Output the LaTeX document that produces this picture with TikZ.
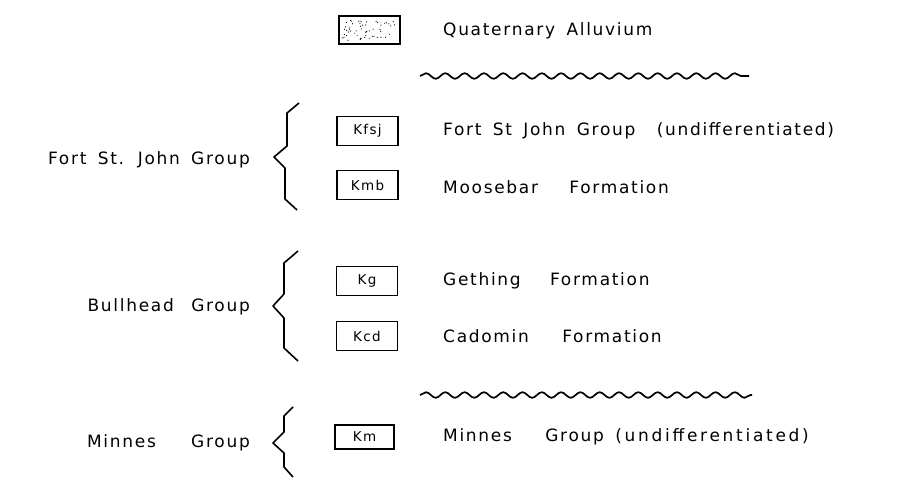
\documentclass[tikz,border=0pt]{standalone}
\usepackage{fontspec}
\setmainfont{DejaVu Sans}[WordSpace={1.6}, LetterSpace=10]
\usetikzlibrary{decorations.pathmorphing,calc}

\tikzset{
  unitbox/.style={draw, line width=1.3pt, minimum width=61pt, minimum height=29pt,
    inner sep=0pt, font=\fontsize{13.5}{16}\selectfont},
  unitname/.style={anchor=west, inner sep=0pt, font=\fontsize{17}{20}\selectfont},
  groupname/.style={anchor=east, inner sep=0pt, font=\fontsize{17}{20}\selectfont},
  bracket/.style={line width=1.6pt, line join=round},
  uncon/.style={line width=1.7pt, decorate,
    decoration={snake, segment length=19.3pt, amplitude=2.8pt}},
}

\begin{document}
\begin{tikzpicture}[x=1pt, y=-1pt]
\useasboundingbox (0,0) rectangle (908,484);

% stippled alluvium symbol
\node[unitbox, line width=1.1pt, minimum width=61pt, minimum height=28pt] (qal) at (369.5,30) {};
\pgfmathsetseed{7}
\foreach \i in {1,...,55} {
  \fill ($(qal.south west)+(4+53*rnd, -4-20*rnd)$) circle (0.6pt);
}
\node[unitname] (tqal) at (443,31) {Quaternary Alluvium};

% unconformities
\coordinate (u1a) at (420,76);
\coordinate (u1b) at (749,76);
\draw[uncon] (u1a) -- (u1b);
\coordinate (u2a) at (420,395);
\coordinate (u2b) at (752,395);
\draw[uncon] (u2a) -- (u2b);

% map units
\node[unitbox] (kfsj) at (367.5,131) {Kfsj};
\node[unitname] (tkfsj) at (443,131) {Fort St John Group\hspace{10pt} (undifferentiated)};
\node[unitbox] (kmb) at (367.5,185) {Kmb};
\node[unitname] (tkmb) at (443,187) {Moosebar\hspace{20pt} Formation};
\node[unitbox] (kg) at (367,281) {Kg};
\node[unitname] (tkg) at (443,281) {Gething\hspace{18pt} Formation};
\node[unitbox] (kcd) at (367,336) {Kcd};
\node[unitname] (tkcd) at (443,336) {Cadomin\hspace{22pt} Formation};
\node[unitbox, minimum width=59pt, minimum height=24pt] (km) at (364.5,437) {Km};
\node[unitname] (tkm) at (443,437) {Minnes\hspace{22pt} Group {\addfontfeatures{LetterSpace=16}(undifferentiated)}};

% group names and their brackets
\node[groupname] (gfsj) at (250,160) {Fort St. John Group};
\draw[bracket] (299,103) -- (287,113) -- (287,146) -- (274,157) -- (285,168)
  -- (285,199) -- (297,210);
\node[groupname] (gbh) at (250,307) {Bullhead\hspace{6pt} Group};
\draw[bracket] (298,251) -- (284,263) -- (284,294) -- (273,306) -- (284,318)
  -- (284,348) -- (298,361);
\node[groupname] (gmn) at (250,443) {Minnes\hspace{24pt} Group};
\draw[bracket] (293,407) -- (284,416) -- (284,432) -- (273,443) -- (284,453)
  -- (284,467) -- (293,477);
\end{tikzpicture}
\end{document}
